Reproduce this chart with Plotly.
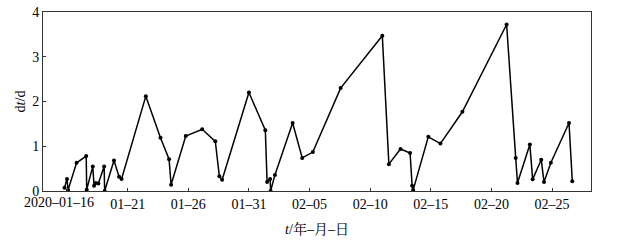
import plotly.graph_objects as go

times = [
    "2020-01-15 19:00", "2020-01-16 00:00", "2020-01-16 02:00", "2020-01-16 19:00",
    "2020-01-17 14:00", "2020-01-17 15:00", "2020-01-18 03:00", "2020-01-18 05:30",
    "2020-01-18 09:00", "2020-01-18 14:00", "2020-01-19 01:30", "2020-01-19 02:30",
    "2020-01-19 21:00", "2020-01-20 07:00", "2020-01-20 12:00", "2020-01-22 12:00",
    "2020-01-23 17:00", "2020-01-24 10:00", "2020-01-24 14:00", "2020-01-25 19:00",
    "2020-01-27 03:30", "2020-01-28 05:30", "2020-01-28 13:30", "2020-01-28 19:00",
    "2020-01-31 00:00", "2020-02-01 08:30", "2020-02-01 12:00", "2020-02-01 18:00",
    "2020-02-01 19:00", "2020-02-02 03:30", "2020-02-03 14:30", "2020-02-04 09:30",
    "2020-02-05 06:30", "2020-02-07 13:30", "2020-02-11 00:00", "2020-02-11 13:00",
    "2020-02-12 12:00", "2020-02-13 07:00", "2020-02-13 11:00", "2020-02-13 13:00",
    "2020-02-14 19:00", "2020-02-15 19:00", "2020-02-17 14:30", "2020-02-21 06:00",
    "2020-02-22 00:00", "2020-02-22 03:30", "2020-02-23 04:00", "2020-02-23 09:30",
    "2020-02-24 02:30", "2020-02-24 08:00", "2020-02-24 21:30", "2020-02-26 09:30",
    "2020-02-26 16:00",
]
values = [
    0.07, 0.27, 0.02, 0.63, 0.78, 0.03, 0.55, 0.12, 0.18, 0.17, 0.55, 0.00,
    0.68, 0.32, 0.27, 2.12, 1.19, 0.71, 0.14, 1.23, 1.38, 1.11, 0.33, 0.25,
    2.20, 1.36, 0.20, 0.27, 0.00, 0.36, 1.52, 0.74, 0.87, 2.30, 3.47, 0.60,
    0.94, 0.85, 0.12, 0.02, 1.21, 1.06, 1.77, 3.72, 0.74, 0.18, 1.04, 0.26,
    0.70, 0.20, 0.63, 1.52, 0.22,
]
tick_dates = ["2020-01-16", "2020-01-21", "2020-01-26", "2020-01-31", "2020-02-05",
              "2020-02-10", "2020-02-15", "2020-02-20", "2020-02-25"]
tick_labels = ["", "01–21", "01–26", "01–31", "02–05", "02–10", "02–15", "02–20", "02–25"]
first_label = "2020–01–16"
y_ticks = [0, 1, 2, 3, 4]

font_family = "Liberation Serif, Noto Serif CJK SC, Noto Sans CJK SC, serif"

fig = go.Figure()
fig.add_trace(go.Scatter(
    x=times, y=values, mode="lines+markers",
    line=dict(color="black", width=1.5),
    marker=dict(color="black", size=4),
    showlegend=False,
))

fig.add_annotation(
    x=tick_dates[0], y=0, xref="x", yref="paper", yanchor="top", xanchor="center",
    text=first_label, showarrow=False, xshift=-8, yshift=-3, borderpad=0,
    font=dict(family=font_family, size=14, color="black"),
)

fig.update_layout(
    width=641, height=245,
    margin=dict(l=43, r=50, t=12, b=54, autoexpand=False),
    paper_bgcolor="white", plot_bgcolor="white",
    font=dict(family=font_family, size=14, color="black"),
    xaxis=dict(
        range=["2020-01-14 00:30", "2020-02-28 05:00"],
        tickmode="array", tickvals=tick_dates, ticktext=tick_labels,
        ticks="inside", ticklen=3, tickcolor="#333",
        showline=True, linecolor="#333", linewidth=1, mirror=True,
        showgrid=False, zeroline=False, automargin=False,
        title=dict(text="<i>t</i>/年–月–日", standoff=13, font=dict(size=14)),
    ),
    yaxis=dict(
        range=[0, 4],
        tickmode="array", tickvals=y_ticks,
        ticks="inside", ticklen=3, tickcolor="#333",
        showline=True, linecolor="#333", linewidth=1, mirror=True,
        showgrid=False, zeroline=False, automargin=False,
        title=dict(text="d<i>t</i>/d", standoff=3, font=dict(size=14)),
    ),
)

fig.write_html(
    "out.html",
    config={"displayModeBar": False},
    post_script="document.body.style.margin='0';document.body.style.overflow='hidden';",
)
